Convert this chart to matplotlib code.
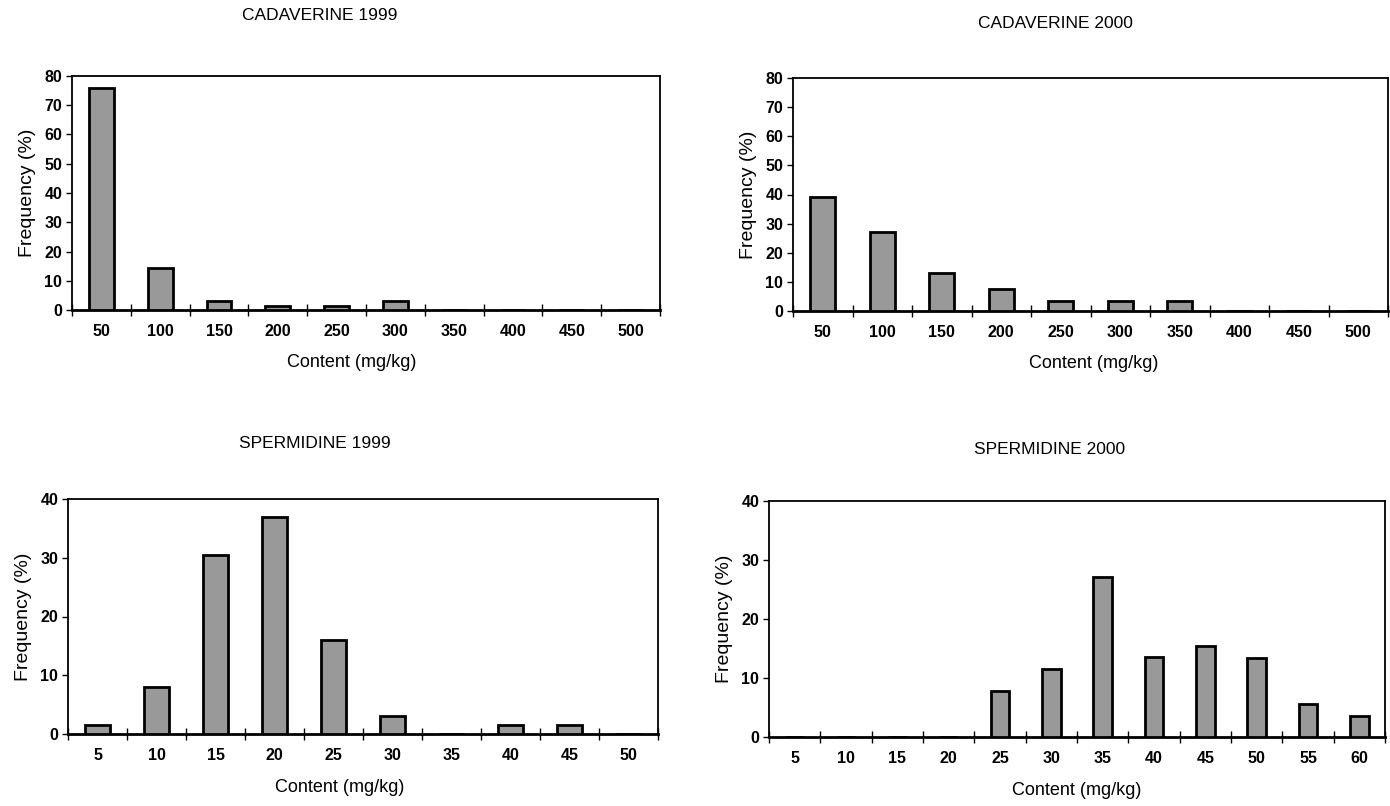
import numpy as np
import matplotlib
matplotlib.use('Agg')
import matplotlib.pyplot as plt

plt.rcParams['font.family'] = ['Liberation Sans', 'DejaVu Sans']

# Cadaverine content classes (mg/kg) and frequencies (%)
cad_labels = ['50', '100', '150', '200', '250', '300', '350', '400', '450', '500']
cad_1999 = [76, 14.5, 3, 1.5, 1.5, 3, 0, 0, 0, 0]
cad_2000 = [39, 27, 13, 7.5, 3.5, 3.5, 3.5, 0, 0, 0]

# Spermidine content classes (mg/kg) and frequencies (%)
spd_labels_1999 = ['5', '10', '15', '20', '25', '30', '35', '40', '45', '50']
spd_1999 = [1.5, 8, 30.5, 37, 16, 3, 0, 1.5, 1.5, 0]
spd_labels_2000 = ['5', '10', '15', '20', '25', '30', '35', '40', '45', '50', '55', '60']
spd_2000 = [0, 0, 0, 0, 7.8, 11.6, 27.2, 13.5, 15.5, 13.4, 5.6, 3.6]

W, H = 1390, 806


def px_axes(fig, x0, y0, x1, y1):
    # axes from pixel box (top-left origin)
    return fig.add_axes([x0 / W, 1 - y1 / H, (x1 - x0) / W, (y1 - y0) / H])


def draw_hist(ax, labels, values, ymax, ystep, bar_w, xlab_x):
    n = len(labels)
    x = np.arange(n)
    ax.bar(x, values, width=bar_w, color='#999999', edgecolor='black', linewidth=2, zorder=3)
    ax.set_xlim(-0.5, n - 0.5)
    ax.set_ylim(0, ymax)
    ax.set_yticks(np.arange(0, ymax + 1, ystep))
    ax.set_xticks(x)
    ax.set_xticklabels(labels, fontsize=11.5, fontweight='bold')
    for t in ax.get_yticklabels():
        t.set_fontweight('bold')
    ax.set_xticks(np.arange(-0.5, n), minor=True)
    ax.tick_params(axis='x', which='major', length=0, pad=10)
    ax.tick_params(axis='x', which='minor', direction='inout', length=8, width=1)
    ax.tick_params(axis='y', direction='out', length=4, width=1, labelsize=11.5, pad=3)
    for s in ax.spines.values():
        s.set_linewidth(1.3)
    ax.spines['bottom'].set_linewidth(2)
    ax.set_ylabel('Frequency (%)', fontsize=14, labelpad=6)
    ax.set_xlabel('Content (mg/kg)', fontsize=13)
    ax.xaxis.set_label_coords(xlab_x, -0.19)


fig = plt.figure(figsize=(W / 100, H / 100), dpi=100)

ax1 = px_axes(fig, 72, 76, 660, 310)
draw_hist(ax1, cad_labels, cad_1999, 80, 10, 0.42, 0.475)
fig.text(320 / W, 1 - 15 / H, 'CADAVERINE 1999', ha='center', va='center', fontsize=12.5)

ax2 = px_axes(fig, 793, 78, 1388, 311)
draw_hist(ax2, cad_labels, cad_2000, 80, 10, 0.42, 0.505)
fig.text(1055 / W, 1 - 23 / H, 'CADAVERINE 2000', ha='center', va='center', fontsize=12.5)

ax3 = px_axes(fig, 68, 499, 658, 734)
draw_hist(ax3, spd_labels_1999, spd_1999, 40, 10, 0.42, 0.46)
fig.text(315 / W, 1 - 444 / H, 'SPERMIDINE 1999', ha='center', va='center', fontsize=12.5)

ax4 = px_axes(fig, 769, 501, 1385, 737)
draw_hist(ax4, spd_labels_2000, spd_2000, 40, 10, 0.36, 0.5)
fig.text(1050 / W, 1 - 449 / H, 'SPERMIDINE 2000', ha='center', va='center', fontsize=12.5)

fig.savefig('out.png', dpi=100)
